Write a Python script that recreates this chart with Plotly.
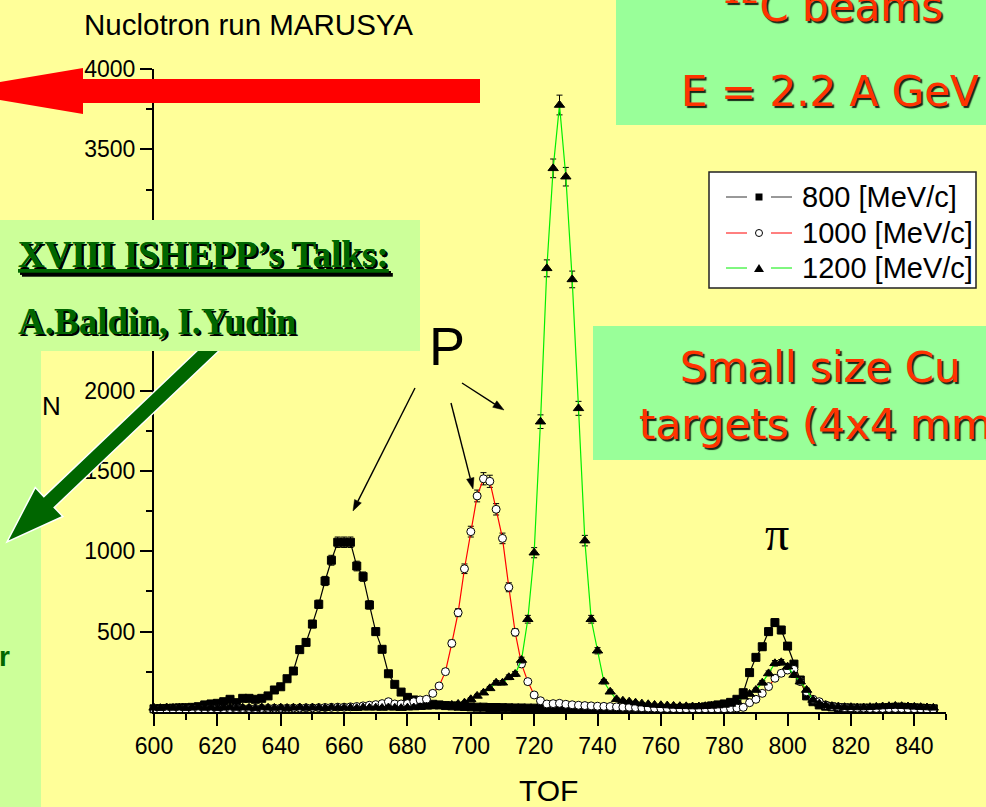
import numpy as np
import plotly.graph_objects as go

# ---------------- data ----------------
tof = list(range(600, 848, 2))  # TOF channels (ns)

n800 = [20, 21, 22, 24, 26, 27, 29, 33, 44, 50,
        54, 64, 79, 58, 85, 85, 79, 85, 100, 137,
        157, 207, 255, 388, 433, 547, 670, 815, 944, 1056,
        1056, 1056, 908, 842, 666, 500, 390, 238, 172, 124,
        91, 75, 62, 55, 48, 44, 40, 38, 36, 34,
        32, 30, 30, 28, 28, 27, 26, 25, 25, 24,
        24, 23, 22, 22, 22, 21, 21, 20, 20, 20,
        20, 20, 19, 19, 19, 19, 20, 20, 20, 20,
        21, 22, 22, 23, 24, 26, 28, 32, 38, 44,
        50, 60, 79, 120, 245, 340, 406, 500, 556, 510,
        410, 298, 199, 100, 64, 44, 36, 32, 28, 26,
        25, 24, 24, 24, 25, 26, 28, 30, 30, 28,
        26, 24, 22, 20]

n1000 = [16, 16, 17, 17, 18, 18, 18, 19, 19, 20,
         20, 20, 21, 21, 22, 22, 22, 23, 23, 24,
         24, 24, 25, 25, 26, 26, 27, 28, 29, 30,
         30, 32, 34, 38, 42, 46, 52, 64, 50, 50,
         52, 64, 75, 79, 116, 162, 251, 427, 618, 891,
         1122, 1344, 1451, 1435, 1261, 1080, 776, 496, 299, 189,
         106, 70, 50, 52, 54, 48, 45, 42, 40, 38,
         36, 35, 34, 32, 30, 30, 28, 26, 25, 24,
         22, 22, 21, 20, 20, 20, 20, 20, 20, 20,
         20, 22, 25, 29, 58, 79, 116, 158, 210, 241,
         261, 265, 189, 126, 79, 64, 44, 36, 32, 28,
         26, 24, 24, 22, 22, 22, 22, 22, 22, 20,
         20, 20, 18, 18]

n1200 = [26, 24, 28, 25, 27, 24, 26, 28, 25, 27,
         24, 26, 28, 25, 27, 26, 24, 28, 26, 25,
         27, 24, 26, 28, 25, 27, 26, 24, 28, 25,
         27, 26, 24, 28, 26, 27, 25, 28, 26, 24,
         27, 28, 30, 32, 34, 36, 40, 44, 50, 58,
         79, 100, 120, 147, 182, 182, 216, 236, 323, 577,
         991, 1806, 2760, 3382, 3776, 3330, 2691, 1889, 1066, 577,
         381, 189, 126, 79, 70, 64, 58, 52, 48, 44,
         42, 40, 38, 36, 35, 34, 34, 36, 38, 40,
         44, 50, 64, 95, 112, 137, 182, 240, 303, 309,
         282, 230, 189, 137, 75, 52, 42, 36, 32, 30,
         30, 28, 28, 30, 32, 34, 36, 38, 36, 34,
         32, 30, 28, 26]

series_names = ["800 [MeV/c]", "1000 [MeV/c]", "1200 [MeV/c]"]
x_ticks = list(range(600, 841, 20))
y_ticks = [500, 1000, 1500, 2000, 2500, 3000, 3500, 4000]

assert len(n800) == len(tof) == len(n1000) == len(n1200)

# ---------------- geometry helpers ----------------
W, H = 986, 807
ML, MR, MT, MB = 154, 40, 69, 95
PW = W - ML - MR
PH = H - MT - MB


def px(x):
    return (x - ML) / PW


def py(y):
    return (H - MB - y) / PH


def path(pts, close=True):
    s = "M" + " L".join(f"{px(x):.5f},{py(y):.5f}" for x, y in pts)
    return s + (" Z" if close else "")


BG = "#FFFF99"
GREEN1 = "#99FF99"
GREEN2 = "#CCFF99"
DKGREEN = "#006600"
RED_TXT = "#FF3300"

fig = go.Figure()

styles = [
    dict(sym="square", size=8, fill="black", lc="black"),
    dict(sym="circle", size=8, fill="white", lc="#FF0000"),
    dict(sym="triangle-up", size=9, fill="black", lc="#00EE00"),
]
for name, vals, st in zip(series_names, [n800, n1000, n1200], styles):
    fig.add_trace(go.Scatter(
        x=tof, y=vals, name=name, mode="lines+markers",
        line=dict(color=st["lc"], width=1.2),
        marker=dict(symbol=st["sym"], size=st["size"], color=st["fill"],
                    line=dict(color="black", width=1)),
        error_y=dict(type="data", array=np.sqrt(np.array(vals, dtype=float)),
                     color="black", thickness=1, width=3),
        cliponaxis=False,
    ))

axis_common = dict(showline=True, linecolor="black", linewidth=2, ticks="outside",
                   ticklen=12, tickwidth=2, tickcolor="black", showgrid=False,
                   zeroline=False,
                   tickfont=dict(family="Liberation Sans, Arial", size=23, color="black"))

fig.update_xaxes(range=[600, 850], tickmode="array", tickvals=x_ticks,
                 minor=dict(ticks="outside", ticklen=6, tickwidth=2, tickcolor="black",
                            tick0=610, dtick=20, showgrid=False),
                 **axis_common)
fig.update_yaxes(range=[0, 4000], tickmode="array", tickvals=y_ticks,
                 minor=dict(ticks="outside", ticklen=6, tickwidth=2, tickcolor="black",
                            tick0=250, dtick=500, showgrid=False),
                 **axis_common)

shapes = []
# left light-green strip
shapes.append(dict(type="rect", xref="paper", yref="paper", x0=px(-5), x1=px(41),
                   y0=py(820), y1=py(220), fillcolor=GREEN2, line=dict(width=0), layer="above"))
# green arrow
T = np.array([7.0, 542.0])
Q = np.array([232.0, 328.0])
u = (T - Q) / np.linalg.norm(T - Q)
n = np.array([-u[1], u[0]])
hw, HW, L = 7.5, 20.0, 58.0
B = T - u * L
pts = [Q + n * hw, B + n * hw, B + n * HW, T, B - n * HW, B - n * hw, Q - n * hw]
shapes.append(dict(type="path", xref="paper", yref="paper", path=path([tuple(p) for p in pts]),
                   fillcolor=DKGREEN, line=dict(color="white", width=1.5), layer="above"))
# ISHEPP box
shapes.append(dict(type="rect", xref="paper", yref="paper", x0=px(-5), x1=px(420),
                   y0=py(351), y1=py(220), fillcolor=GREEN2, line=dict(width=0), layer="above"))
# red arrow
red_pts = [(480, 79), (83, 79), (83, 68), (-53, 91), (83, 114), (83, 103), (480, 103)]
shapes.append(dict(type="path", xref="paper", yref="paper", path=path(red_pts),
                   fillcolor="#FF0000", line=dict(width=0), layer="above"))
# top-right box
shapes.append(dict(type="rect", xref="paper", yref="paper", x0=px(616), x1=px(995),
                   y0=py(125), y1=py(-10), fillcolor=GREEN1, line=dict(width=0), layer="above"))
# small size box
shapes.append(dict(type="rect", xref="paper", yref="paper", x0=px(593), x1=px(995),
                   y0=py(460), y1=py(326), fillcolor=GREEN1, line=dict(width=0), layer="above"))
# legend box
shapes.append(dict(type="rect", xref="paper", yref="paper", x0=px(709), x1=px(976),
                   y0=py(288), y1=py(172), fillcolor="white", line=dict(color="#222222", width=1.5),
                   layer="above"))
leg_rows = [197, 233, 268]
leg_cols = ["#333333", "#FF0000", "#00EE00"]
for yy, c in zip(leg_rows, leg_cols):
    for xa, xb in [(726, 747), (771, 792)]:
        shapes.append(dict(type="line", xref="paper", yref="paper", x0=px(xa), x1=px(xb),
                           y0=py(yy), y1=py(yy), line=dict(color=c, width=1), layer="above"))
shapes.append(dict(type="rect", xref="paper", yref="paper", x0=px(755.5), x1=px(762.5),
                   y0=py(200.5), y1=py(193.5), fillcolor="black", line=dict(width=0), layer="above"))
shapes.append(dict(type="circle", xref="paper", yref="paper", x0=px(755.5), x1=px(762.5),
                   y0=py(236.5), y1=py(229.5), fillcolor="white", line=dict(color="black", width=1),
                   layer="above"))
shapes.append(dict(type="path", xref="paper", yref="paper",
                   path=path([(759, 264), (764, 272), (754, 272)]),
                   fillcolor="black", line=dict(width=0), layer="above"))

# P arrows (thin black lines with filled heads)
for (tx, ty), (hx, hy) in [((415, 388), (353, 511)), ((451, 403), (473, 489)),
                           ((462, 383), (504, 410))]:
    tail = np.array([tx, ty], float)
    head = np.array([hx, hy], float)
    d = (head - tail) / np.linalg.norm(head - tail)
    nn = np.array([-d[1], d[0]])
    base = head - d * 11
    shapes.append(dict(type="path", xref="paper", yref="paper",
                       path=path([tuple(tail), tuple(base)], close=False),
                       line=dict(color="black", width=1.4), layer="above"))
    shapes.append(dict(type="path", xref="paper", yref="paper",
                       path=path([tuple(head), tuple(base + nn * 3.8), tuple(base - nn * 3.8)]),
                       fillcolor="black", line=dict(color="black", width=0.5), layer="above"))

ann = []


def text(t, x, y, size, color="black", family="Liberation Sans, Arial", xanchor="center",
         yanchor="middle", **fkw):
    ann.append(dict(text=t, x=px(x), y=py(y), xref="paper", yref="paper", showarrow=False,
                    xanchor=xanchor, yanchor=yanchor,
                    font=dict(family=family, size=size, color=color, **fkw)))


text("Nuclotron run MARUSYA", 82, 24, 29.5, xanchor="left")
text("N", 51, 406, 26)
text("TOF", 548, 790, 30)
text("P", 447, 346, 54)
text("π", 777, 533, 48, family="Liberation Serif, Times New Roman")
text("r", 12, 656, 28, color=DKGREEN, xanchor="right", weight="bold")

red_font = dict(family="DejaVu Sans, Verdana", color=RED_TXT,
                shadow="2px 2px 1px rgba(0,0,0,0.85)")
for t, x, yb, xa in [("<sup>12</sup>C beams", 832, 33, "center"),
                     ("E = 2.2 A GeV", 830, 118, "center"),
                     ("Small size Cu", 820, 394, "center"),
                     ("targets (4x4 mm<sup>2</sup>)", 637, 451, "left")]:
    ann.append(dict(text=t, x=px(x), y=py(yb), xref="paper", yref="paper", showarrow=False,
                    xanchor=xa, yanchor="bottom", font=dict(size=42, **red_font)))

serif = "Liberation Serif, Times New Roman"
text("XVIII ISHEPP’s Talks:", 16, 254, 37, color=DKGREEN, family=serif, xanchor="left",
     weight="bold", lineposition="under", shadow="2px 2px 0px #000000")
text("A.Baldin, I.Yudin", 16, 321, 37, color=DKGREEN, family=serif, xanchor="left",
     weight="bold", shadow="2px 2px 0px #000000")

for name, yy in zip(series_names, leg_rows):
    text(name, 800, yy, 29, xanchor="left")

fig.update_layout(width=W, height=H, autosize=False,
                  margin=dict(l=ML, r=MR, t=MT, b=MB, pad=0),
                  paper_bgcolor=BG, plot_bgcolor=BG, showlegend=False,
                  shapes=shapes, annotations=ann)

fig.write_html("out.html", config={"displayModeBar": False},
               post_script="document.body.style.margin='0px';document.body.style.padding='0px';"
                           "document.body.style.overflow='hidden';")
